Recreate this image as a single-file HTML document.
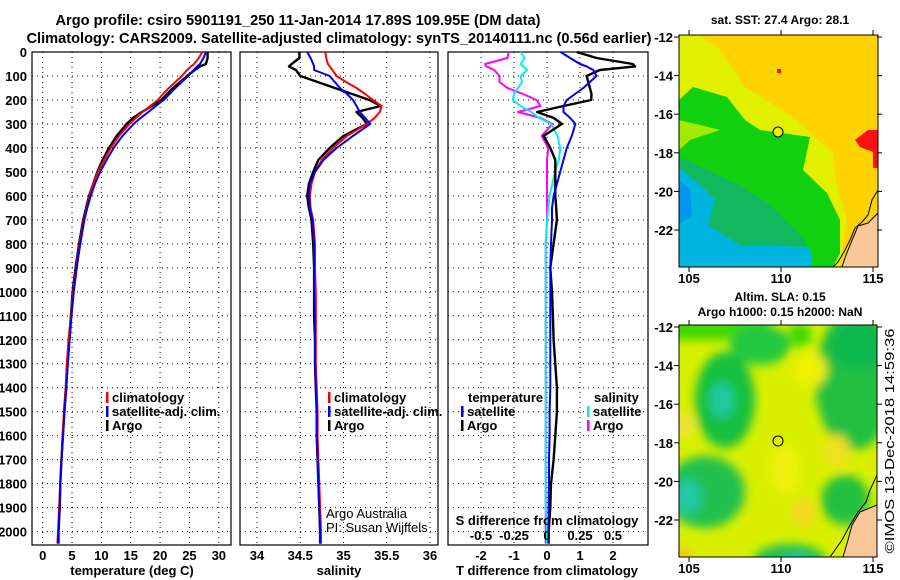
<!DOCTYPE html>
<html><head><meta charset="utf-8"><style>
html,body{margin:0;padding:0;background:#fff;}
svg{display:block;font-family:"Liberation Sans",sans-serif;}
.b{font-weight:bold;}
</style></head><body>
<svg id="fig" width="900" height="580" viewBox="0 0 900 580">
<defs>
<filter id="blur" x="-30%" y="-30%" width="160%" height="160%"><feGaussianBlur stdDeviation="5"/></filter>
<clipPath id="m1clip"><rect x="679" y="35" width="199" height="232"/></clipPath>
<clipPath id="m2clip"><rect x="679" y="325" width="198" height="232"/></clipPath>
</defs>
<text class="b" x="298" y="25" font-size="15" text-anchor="middle" textLength="485" lengthAdjust="spacingAndGlyphs">Argo profile: csiro 5901191_250 11-Jan-2014 17.89S 109.95E (DM data)</text>
<text class="b" x="339" y="43" font-size="15" text-anchor="middle" textLength="625" lengthAdjust="spacingAndGlyphs">Climatology: CARS2009. Satellite-adjusted climatology: synTS_20140111.nc (0.56d earlier)</text>

<!-- Map 1: SST -->
<g>
<text class="b" x="780" y="24" font-size="12" text-anchor="middle">sat. SST: 27.4 Argo: 28.1</text>
<g clip-path="url(#m1clip)">
<rect x="679" y="35" width="199" height="232" fill="#ffd200"/>
<polygon fill="#e0f000" points="679,35 700,35 720,50 745,87 790,115 833,153 837,187 847,220 840,267 679,267"/>
<polygon fill="#10d010" points="679,100 693,87 727,97 745,120 760,130 810,137 803,170 827,193 840,220 840,253 833,267 679,267"/>
<polygon fill="#c8f000" points="679,120 700,125 720,130 690,140 679,150" opacity="0.8"/>
<polygon fill="#12b860" points="679,158 687,160 743,187 773,207 803,237 813,267 679,267"/>
<polygon fill="#00b4e0" points="679,168 700,185 715,200 708,225 740,245 810,247 812,267 679,267"/>
<polygon fill="#0096f0" points="679,180 690,190 692,215 679,225"/>
<polygon fill="#ff1010" points="855,140 868,130 878,130 878,168 873,168 873,152 860,147"/>
<rect x="777" y="69" width="4" height="4" fill="#ff1010"/>
<polygon fill="#f8c898" stroke="#000" stroke-width="1" points="878,213 868,223 858,226 853,238 848,250 845,258 842,267 878,267"/>
<polyline fill="none" stroke="#000" stroke-width="1" points="878,190 872,200 868,215 862,222 855,228 850,240 845,250 838,262 833,267"/>
</g>
<circle cx="778" cy="132" r="5" fill="#e0f000" stroke="#000" stroke-width="1"/>
<rect x="679" y="35" width="199" height="232" fill="none" stroke="#000" stroke-width="1"/>
</g>

<!-- Map 2: SLA -->
<g>
<text class="b" x="780" y="301" font-size="12" text-anchor="middle">Altim. SLA: 0.15</text>
<text class="b" x="780" y="316" font-size="12" text-anchor="middle">Argo h1000: 0.15 h2000: NaN</text>
<g clip-path="url(#m2clip)">
<rect x="679" y="325" width="198" height="232" fill="#d8f000"/>
<g filter="url(#blur)">
<rect x="660" y="310" width="110" height="30" fill="#40d800"/>
<ellipse cx="760" cy="345" rx="30" ry="20" fill="#20c840"/>
<ellipse cx="725" cy="400" rx="30" ry="48" fill="#18c040"/>
<ellipse cx="722" cy="400" rx="12" ry="18" fill="#20c8a0"/>
<ellipse cx="800" cy="335" rx="12" ry="12" fill="#40d800"/>
<ellipse cx="855" cy="380" rx="40" ry="70" fill="#20c040"/>
<ellipse cx="860" cy="345" rx="30" ry="25" fill="#10b850"/>
<ellipse cx="845" cy="500" rx="24" ry="25" fill="#20c040"/>
<ellipse cx="705" cy="492" rx="40" ry="36" fill="#20c050"/>
<ellipse cx="688" cy="497" rx="14" ry="18" fill="#20c8a0"/>
<ellipse cx="790" cy="560" rx="36" ry="16" fill="#20c050"/>
<ellipse cx="795" cy="562" rx="14" ry="8" fill="#20c8a0"/>
<ellipse cx="810" cy="370" rx="17" ry="17" fill="#f0f000"/>
<ellipse cx="837" cy="452" rx="13" ry="17" fill="#f0e020"/>
<ellipse cx="803" cy="512" rx="12" ry="15" fill="#f8d820"/>
<ellipse cx="684" cy="425" rx="10" ry="12" fill="#f0e040"/>
<ellipse cx="785" cy="470" rx="14" ry="24" fill="#f0f010"/>
<ellipse cx="682" cy="556" rx="9" ry="9" fill="#f8c020"/>
</g>
<polygon fill="#f8c898" stroke="#000" stroke-width="1" points="877,505 860,512 852,525 848,540 843,557 877,557"/>
<polyline fill="none" stroke="#000" stroke-width="1" points="877,475 870,490 866,502 858,512 850,525 842,540 830,557"/>
</g>
<circle cx="778" cy="441" r="5" fill="none" stroke="#000" stroke-width="1"/>
<rect x="679" y="325" width="198" height="232" fill="none" stroke="#000" stroke-width="1"/>
</g>
<text x="894" y="441" font-size="13" text-anchor="middle" transform="rotate(-90 894 441)" textLength="225" lengthAdjust="spacingAndGlyphs">©IMOS 13-Dec-2018 14:59:36</text>

<g id="charts"></g>
</svg>
<script>
// ---- data ----
const depths = [0,25,50,60,75,100,125,150,175,200,225,250,275,300,350,400,450,500,550,600,650,700,800,900,1000,1100,1200,1300,1400,1500,1600,1700,1800,1900,2000,2050];
const argoT = [28.1,28.1,27.8,26.8,25.9,24.6,23.4,22.2,21.2,20.2,18.6,16.9,15.4,14.3,12.6,11.3,10.2,9.3,8.6,7.9,7.4,6.9,6.2,5.6,5.1,4.8,4.5,4.2,4.0,3.7,3.4,3.2,3.0,2.9,2.7,2.7];
const climT = [27.2,26.6,25.8,25.3,24.6,23.7,22.6,21.5,20.5,19.6,18.3,17.0,15.9,14.8,13.0,11.6,10.5,9.4,8.6,8.0,7.5,7.0,6.3,5.7,5.2,4.8,4.4,4.1,3.9,3.6,3.4,3.2,3.0,2.8,2.6,2.5];
const satT = [27.8,27.4,26.8,26.3,25.7,24.8,23.7,22.6,21.6,20.6,19.3,18.0,16.7,15.5,13.6,12.1,10.9,9.8,8.9,8.2,7.6,7.1,6.4,5.8,5.3,4.9,4.6,4.3,4.0,3.7,3.5,3.2,3.0,2.9,2.7,2.6];
const argoS = [34.49,34.49,34.40,34.37,34.45,34.50,34.70,34.90,35.10,35.30,35.43,35.15,35.22,35.27,35.00,34.84,34.71,34.65,34.60,34.58,34.60,34.63,34.65,34.66,34.66,34.66,34.67,34.67,34.68,34.69,34.69,34.70,34.71,34.72,34.73,34.73];
const climS = [34.79,34.80,34.82,34.84,34.87,34.92,35.03,35.15,35.25,35.34,35.44,35.42,35.36,35.27,35.04,34.88,34.75,34.67,34.63,34.61,34.62,34.65,34.67,34.67,34.68,34.68,34.68,34.68,34.69,34.70,34.70,34.71,34.72,34.73,34.74,34.74];
const satS = [34.58,34.62,34.65,34.66,34.66,34.84,34.90,34.96,35.04,35.11,35.15,35.19,35.25,35.31,35.11,34.92,34.77,34.67,34.61,34.60,34.61,34.64,34.66,34.66,34.66,34.67,34.67,34.67,34.68,34.69,34.69,34.70,34.71,34.72,34.73,34.73];
const dTargo = [0.9,1.5,2.6,2.67,1.6,1.2,1.25,1.3,1.35,1.34,0.5,-0.3,0.2,0.45,-0.1,0.1,0.25,0.25,0.25,0.25,0.28,0.3,0.2,0.1,0.15,0.18,0.2,0.25,0.3,0.3,0.25,0.2,0.12,0.1,0.05,0.05];
const dTsat = [0.41,0.7,1.0,1.2,1.4,1.5,1.3,1.1,0.85,0.6,0.5,0.5,0.7,0.86,0.75,0.6,0.5,0.4,0.3,0.2,0.15,0.15,0.12,0.1,0.1,0.1,0.1,0.1,0.1,0.08,0.08,0.06,0.06,0.05,0.05,0.05];
const dSargo = [-0.29,-0.3,-0.47,-0.46,-0.4,-0.36,-0.36,-0.3,-0.18,-0.08,-0.05,-0.22,-0.05,0.04,-0.04,0.01,0,0,0,0,0,0,-0.01,-0.01,-0.01,-0.01,-0.01,-0.01,-0.01,-0.01,-0.01,-0.01,-0.01,-0.01,-0.01,-0.01];
const dSsat = [-0.2,-0.17,-0.2,-0.18,-0.15,-0.2,-0.19,-0.22,-0.25,-0.26,-0.2,-0.12,-0.06,0.03,0.08,0.1,0.09,0.06,0.04,0.02,0.01,0,-0.01,-0.01,-0.01,-0.01,-0.01,-0.01,-0.01,-0.01,-0.01,-0.01,-0.01,-0.01,0,0];
const depthTicks = [0,100,200,300,400,500,600,700,800,900,1000,1100,1200,1300,1400,1500,1600,1700,1800,1900,2000];
const tempTicks = [0,5,10,15,20,25,30];
const salTicks = [34,34.5,35,35.5,36];
const dTTicks = [-2,-1,0,1,2];
const dSTicks = [-0.5,-0.25,0,0.25,0.5];
const dSTickLabels = ["-0.5","-0.25","0","0.25","0.5"];
const latTicks = [-12,-14,-16,-18,-20,-22];
const lonTicks = [105,110,115];

const NS = "http://www.w3.org/2000/svg";
const root = document.getElementById('charts');
function mk(tag, attrs, parent, text){
  const e = document.createElementNS(NS, tag);
  for (const k in attrs) e.setAttribute(k, attrs[k]);
  if (text !== undefined) e.textContent = text;
  (parent || root).appendChild(e);
  return e;
}
const TOP = 52, BOT = 545;
const yD = d => TOP + d * 0.2398;
function lin(d0, d1, r0, r1){ return v => r0 + (v - d0) / (d1 - d0) * (r1 - r0); }

const panels = [
  {name:'temperature-panel', x0:32, x1:231, sx: lin(0,30,42.7,218.8), ticks: tempTicks, labels: tempTicks.map(String), title:'temperature (deg C)', tx:132},
  {name:'salinity-panel', x0:240, x1:438, sx: lin(34,36,257,430), ticks: salTicks, labels: salTicks.map(String), title:'salinity', tx:339},
  {name:'difference-panel', x0:448, x1:648, sx: lin(0,1,547,580), ticks: dTTicks, labels: dTTicks.map(String), title:'T difference from climatology', tx:547}
];

panels.forEach((p, pi) => {
  const g = mk('g', {}, root);
  
  
  depthTicks.forEach(d => {
    if (d === 0) return;
    const l = mk('line', {x1:p.x0, x2:p.x1, y1:yD(d), y2:yD(d), stroke:'#000', 'stroke-width':1, 'stroke-dasharray':'1,4'}, g);
    
    
  });
  p.ticks.forEach((t, i) => {
    const x = p.sx(t);
    const l = mk('line', {x1:x, x2:x, y1:TOP, y2:BOT, stroke:'#000', 'stroke-width':1, 'stroke-dasharray':'1,4'}, g);
    
    
    const tl = mk('text', {x:x, y:560, 'font-size':13, 'font-weight':'bold', 'text-anchor':'middle'}, g, p.labels[i]);
    
    
  });
  const at = mk('text', {x:p.tx, y:575, 'font-size':13, 'font-weight':'bold', 'text-anchor':'middle'}, g, p.title);
  
  
  const fr = mk('rect', {x:p.x0, y:TOP, width:p.x1-p.x0, height:BOT-TOP, fill:'none', stroke:'#000', 'stroke-width':1.2}, g);
  
  
  p.g = g;
});

depthTicks.forEach(d => {
  const t = mk('text', {x:27, y:yD(d)+5, 'font-size':13, 'font-weight':'bold', 'text-anchor':'end'}, root, String(d));
  
  
});

function line(g, vals, sx, color, w, name){
  const pts = vals.map((v, i) => sx(v).toFixed(1) + ',' + yD(depths[i]).toFixed(1)).join(' ');
  const pl = mk('polyline', {points:pts, fill:'none', stroke:color, 'stroke-width':w, 'stroke-linejoin':'round'}, g);
  
  
}
line(panels[0].g, argoT, panels[0].sx, '#000', 2.4, 'argo-temperature-line');
line(panels[0].g, climT, panels[0].sx, '#f00', 2, 'climatology-temperature-line');
line(panels[0].g, satT, panels[0].sx, '#0000f0', 2, 'satellite-temperature-line');
line(panels[1].g, argoS, panels[1].sx, '#000', 2.4, 'argo-salinity-line');
line(panels[1].g, climS, panels[1].sx, '#f00', 2, 'climatology-salinity-line');
line(panels[1].g, satS, panels[1].sx, '#0000f0', 2, 'satellite-salinity-line');
const sxS = lin(0, 0.5, 547, 613);
line(panels[2].g, dSargo, sxS, '#ff00ff', 2, 'argo-salinity-diff-line');
line(panels[2].g, dSsat, sxS, '#00f0f0', 2, 'satellite-salinity-diff-line');
line(panels[2].g, dTargo, panels[2].sx, '#000', 2.4, 'argo-temperature-diff-line');
line(panels[2].g, dTsat, panels[2].sx, '#0000f0', 2, 'satellite-temperature-diff-line');

const sdt = mk('text', {x:547, y:525, 'font-size':13, 'font-weight':'bold', 'text-anchor':'middle'}, root, 'S difference from climatology');


dSTicks.forEach((s, i) => {
  const t = mk('text', {x:sxS(s), y:540, 'font-size':13, 'font-weight':'bold', 'text-anchor':'middle'}, root, dSTickLabels[i]);
  
  
});

function legend(x, y, color, label, name){
  const g = mk('g', {}, root);
  
  
  mk('rect', {x:x, y:y-10, width:2.5, height:11, fill:color}, g);
  mk('text', {x:x+6, y:y, 'font-size':13, 'font-weight':'bold'}, g, label);
}
legend(106, 402, '#f00', 'climatology', 'legend-climatology-t');
legend(106, 416, '#0000f0', 'satellite-adj. clim.', 'legend-satellite-t');
legend(106, 430, '#000', 'Argo', 'legend-argo-t');
legend(328, 402, '#f00', 'climatology', 'legend-climatology-s');
legend(328, 416, '#0000f0', 'satellite-adj. clim.', 'legend-satellite-s');
legend(328, 430, '#000', 'Argo', 'legend-argo-s');
const lt = mk('text', {x:468, y:402, 'font-size':13, 'font-weight':'bold'}, root, 'temperature');


legend(461, 416, '#0000f0', 'satellite', 'legend-satellite-dt');
legend(461, 430, '#000', 'Argo', 'legend-argo-dt');
const ls = mk('text', {x:594, y:402, 'font-size':13, 'font-weight':'bold'}, root, 'salinity');


legend(587, 416, '#00f0f0', 'satellite', 'legend-satellite-ds');
legend(587, 430, '#ff00ff', 'Argo', 'legend-argo-ds');

const c1 = mk('text', {x:326, y:518, 'font-size':13}, root, 'Argo Australia');


const c2 = mk('text', {x:326, y:532, 'font-size':13}, root, 'PI: Susan Wijffels');



const lonX = lin(105, 115, 689, 873);
[{top:35, bot:267, latY: lin(-12,-22,37,230), lab:278}, {top:325, bot:557, latY: lin(-12,-22,327,520), lab:568}].forEach((m, mi) => {
  latTicks.forEach(la => {
    const y = m.latY(la);
    mk('line', {x1:674, x2:679, y1:y, y2:y, stroke:'#000'}, root);
    mk('line', {x1:877, x2:882, y1:y, y2:y, stroke:'#000'}, root);
    const t = mk('text', {x:673, y:y+5, 'font-size':13, 'font-weight':'bold', 'text-anchor':'end'}, root, String(la));
    
    
  });
  lonTicks.forEach(lo => {
    const x = lonX(lo);
    mk('line', {x1:x, x2:x, y1:m.top-5, y2:m.top, stroke:'#000'}, root);
    mk('line', {x1:x, x2:x, y1:m.bot, y2:m.bot+5, stroke:'#000'}, root);
    const t = mk('text', {x:x, y:m.lab+5, 'font-size':13, 'font-weight':'bold', 'text-anchor':'middle'}, root, String(lo));
    
    
  });
});
</script>
</body></html>
